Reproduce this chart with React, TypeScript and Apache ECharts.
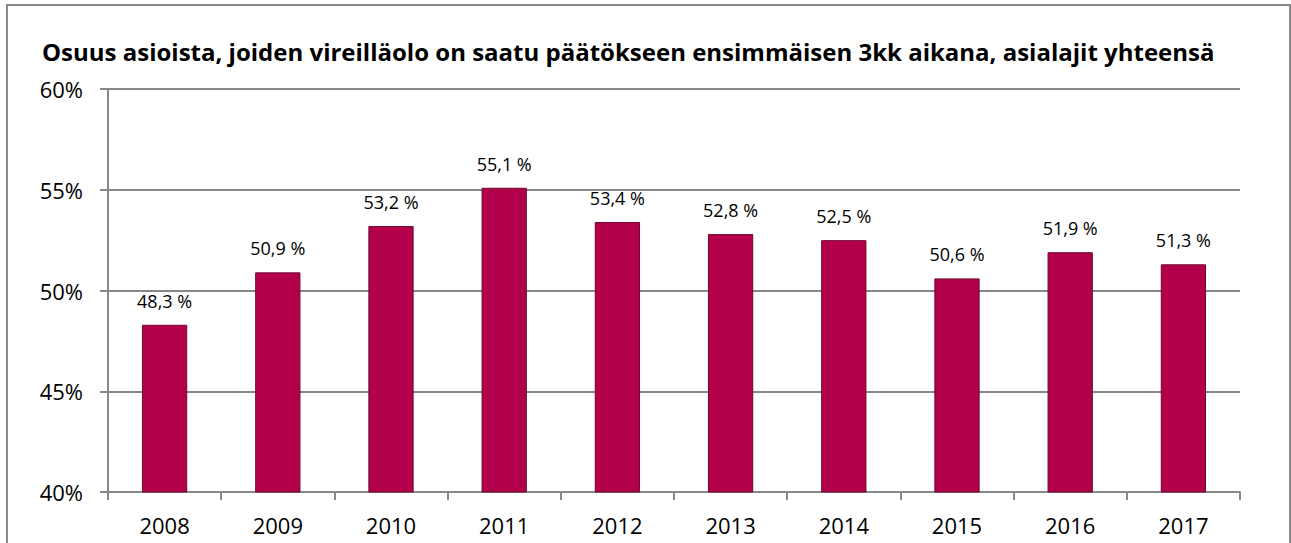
import React, { useEffect, useRef } from "react";
import * as echarts from "echarts";

const titleText = "Osuus asioista, joiden vireilläolo on saatu päätökseen ensimmäisen 3kk aikana, asialajit yhteensä";
const years = ["2008", "2009", "2010", "2011", "2012", "2013", "2014", "2015", "2016", "2017"];
const shares = [48.3, 50.9, 53.2, 55.1, 53.4, 52.8, 52.5, 50.6, 51.9, 51.3];

export default function App() {
  const ref = useRef<HTMLDivElement>(null);
  useEffect(() => {
    if (!ref.current) return;
    const chart = echarts.init(ref.current, null, { renderer: "svg" });
    const font = "'Open Sans', Lato, sans-serif";
    chart.setOption({
      animation: false,
      backgroundColor: "#ffffff",
      title: {
        text: titleText,
        left: 42,
        top: 39,
        padding: 0,
        textStyle: { fontFamily: font, fontWeight: "bold", fontSize: 24, color: "#000" },
      },
      graphic: [
        {
          type: "rect",
          shape: { x: 7, y: 5, width: 1283, height: 600 },
          style: { fill: "none", stroke: "#888888", lineWidth: 2 },
          silent: true,
        },
      ],
      grid: { left: 108, right: 51, top: 89, bottom: 51 },
      xAxis: {
        type: "category",
        data: years,
        axisLine: { lineStyle: { color: "#888888", width: 2 } },
        axisTick: { show: true, length: 8, lineStyle: { color: "#888888", width: 2 } },
        axisLabel: { color: "#000", fontFamily: font, fontSize: 22, margin: 22 },
      },
      yAxis: {
        type: "value",
        min: 40,
        max: 60,
        interval: 5,
        axisLine: { show: true, lineStyle: { color: "#888888", width: 2 } },
        axisTick: { show: true, length: 8, lineStyle: { color: "#888888", width: 2 } },
        splitLine: { lineStyle: { color: "#888888", width: 2 } },
        axisLabel: { color: "#000", fontFamily: font, fontSize: 22, margin: 25, formatter: "{value}%" },
      },
      series: [
        {
          type: "bar",
          data: shares,
          barWidth: "40%",
          itemStyle: { color: "#B3004A", borderColor: "#6E0A30", borderWidth: 1 },
          label: {
            show: true,
            position: "top",
            distance: 15,
            color: "#000",
            fontFamily: font,
            fontSize: 18,
            formatter: (p: any) => p.value.toFixed(1).replace(".", ",") + " %",
          },
        },
      ],
    });
    return () => chart.dispose();
  }, []);
  return (
    <div
      ref={ref}
      style={{ position: "absolute", left: 0, top: 0, width: 1291, height: 543 }}
    />
  );
}
